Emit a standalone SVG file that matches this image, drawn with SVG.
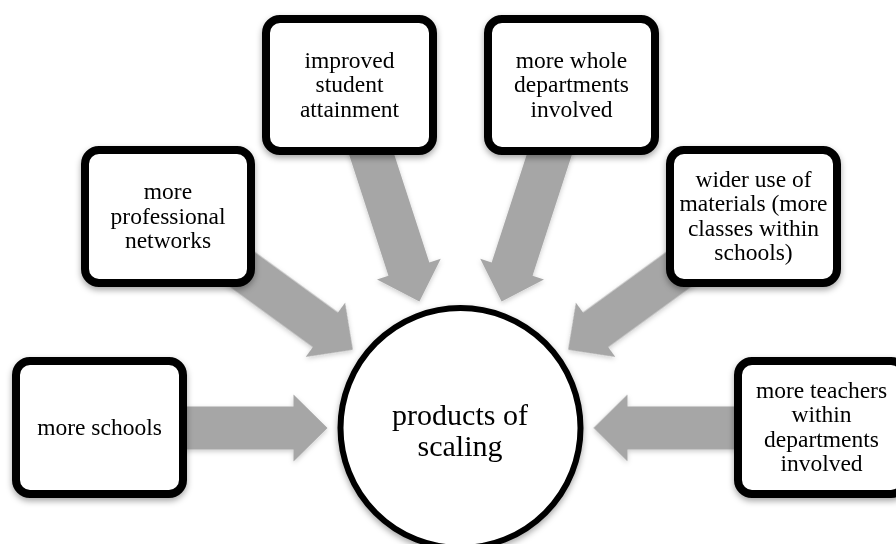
<svg xmlns="http://www.w3.org/2000/svg" xmlns:xlink="http://www.w3.org/1999/xlink" width="896" height="544" viewBox="0 0 896 544">
  <style>
    .box { fill: #ffffff; stroke: #000000; stroke-width: 8; }
    .hub { fill: #ffffff; stroke: #000000; stroke-width: 6; }
    .lbl { font-family: "Liberation Serif", "Times New Roman", serif; font-size: 23.5px; fill: #000000; text-anchor: middle; }
    .hubl { font-family: "Liberation Serif", "Times New Roman", serif; font-size: 30px; fill: #000000; text-anchor: middle; }
    .arr { fill: #A6A6A6; }
  </style>
  <defs>
    <filter id="sh" x="-20%" y="-20%" width="140%" height="150%">
      <feDropShadow dx="0" dy="3" stdDeviation="3" flood-color="#000000" flood-opacity="0.35"/>
    </filter>
    <filter id="sha" x="-20%" y="-30%" width="140%" height="160%">
      <feDropShadow dx="0" dy="2" stdDeviation="2.5" flood-color="#000000" flood-opacity="0.2"/>
    </filter>
    <path id="arrow" d="M0,0 L-34,-33.5 L-34,-21.5 L-167,-21.5 L-167,21.5 L-34,21.5 L-34,33.5 Z"/>
  </defs>
  <rect x="0" y="0" width="896" height="544" fill="#ffffff"/>

  <g id="connectors" class="arr" filter="url(#sha)">
    <use xlink:href="#arrow" href="#arrow" transform="translate(327.5,428) rotate(0)"/>
    <use xlink:href="#arrow" href="#arrow" transform="translate(352.9,349.8) rotate(36)"/>
    <use xlink:href="#arrow" href="#arrow" transform="translate(419.4,301.5) rotate(72)"/>
    <use xlink:href="#arrow" href="#arrow" transform="translate(501.6,301.5) rotate(108)"/>
    <use xlink:href="#arrow" href="#arrow" transform="translate(568.1,349.8) rotate(144)"/>
    <use xlink:href="#arrow" href="#arrow" transform="translate(593.5,428) rotate(180)"/>
  </g>

  <g id="hub">
    <circle class="hub" cx="460.5" cy="428" r="120" filter="url(#sh)"/>
    <text class="hubl" x="460" y="424.5">products of</text>
    <text class="hubl" x="460" y="455.5">scaling</text>
  </g>

  <g id="node-schools">
    <rect class="box" x="16" y="361" width="167" height="133" rx="14" filter="url(#sh)"/>
    <text class="lbl" x="99.5" y="435">more schools</text>
  </g>

  <g id="node-networks">
    <rect class="box" x="85" y="150" width="166" height="133" rx="14" filter="url(#sh)"/>
    <text class="lbl" x="168" y="199">more</text>
    <text class="lbl" x="168" y="223.5">professional</text>
    <text class="lbl" x="168" y="248">networks</text>
  </g>

  <g id="node-attainment">
    <rect class="box" x="266" y="19" width="167" height="132" rx="14" filter="url(#sh)"/>
    <text class="lbl" x="349.5" y="67.5">improved</text>
    <text class="lbl" x="349.5" y="92">student</text>
    <text class="lbl" x="349.5" y="116.5">attainment</text>
  </g>

  <g id="node-departments">
    <rect class="box" x="488" y="19" width="167" height="132" rx="14" filter="url(#sh)"/>
    <text class="lbl" x="571.5" y="67.5">more whole</text>
    <text class="lbl" x="571.5" y="92">departments</text>
    <text class="lbl" x="571.5" y="116.5">involved</text>
  </g>

  <g id="node-materials">
    <rect class="box" x="670" y="150" width="167" height="133" rx="14" filter="url(#sh)"/>
    <text class="lbl" x="753.5" y="186.75">wider use of</text>
    <text class="lbl" x="753.5" y="211.25">materials (more</text>
    <text class="lbl" x="753.5" y="235.75">classes within</text>
    <text class="lbl" x="753.5" y="260.25">schools)</text>
  </g>

  <g id="node-teachers">
    <rect class="box" x="738" y="361" width="167" height="133" rx="14" filter="url(#sh)"/>
    <text class="lbl" x="821.5" y="397.75">more teachers</text>
    <text class="lbl" x="821.5" y="422.25">within</text>
    <text class="lbl" x="821.5" y="446.75">departments</text>
    <text class="lbl" x="821.5" y="471.25">involved</text>
  </g>
</svg>
